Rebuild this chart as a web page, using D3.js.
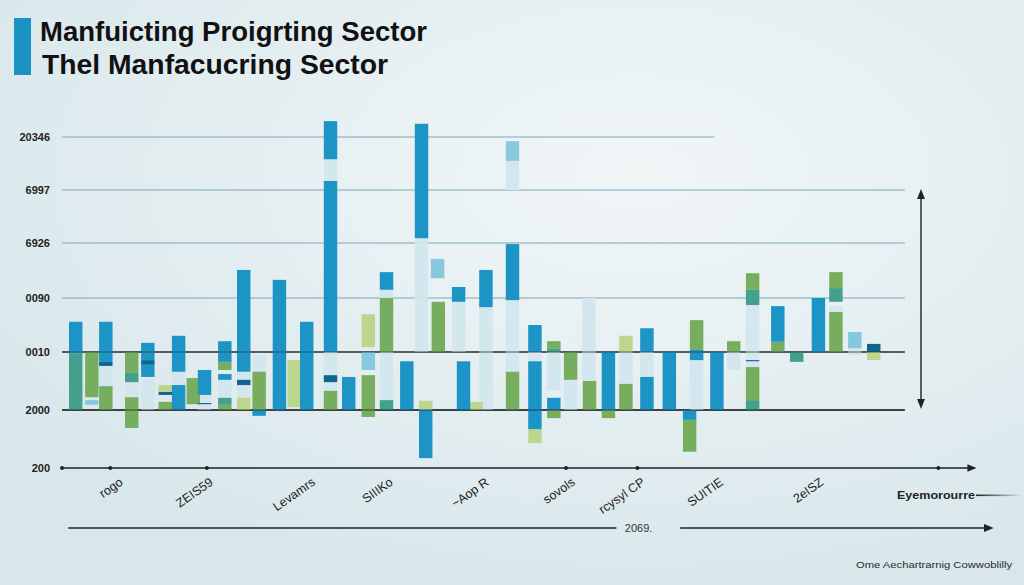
<!DOCTYPE html>
<html>
<head>
<meta charset="utf-8">
<script src="https://cdn.jsdelivr.net/npm/d3@7"></script>
<style>
  html, body { margin: 0; padding: 0; background: #e6eff2; }
  svg { display: block; }
</style>
</head>
<body>
<div id="chart"></div>
<script>
// Titres
const titleLines = ["Manfuicting Proigrting Sector", "Thel Manfacucring Sector"];

// Axe vertical : valeurs et libellés
const yValues = [-1, 0, 1, 2, 3, 4, 5];
const yTickLabels = ["200", "2000", "0010", "0090", "6926", "6997", "20346"];

// Axe horizontal : libellés et position
const xLabels = ["rogo", "ZEIS59", "Levamrs", "SIIIKo", "~Aop R", "sovols", "rcysyl CP", "SUITIE", "2eISZ"];
const xLabelAt = [4.4, 10.85, 18.15, 23.7, 30.55, 36.7, 41.7, 47.3, 54.45];
const axisDots = [0, 3.45, 10.35, 36.0, 41.1, 62.6];

// Segments : [position, bas, haut]
const paleBars = [
  [2.65, 0.41, 0.76], [4.5, 0.22, 0.48], [5.65, 0, 0.52], [7.85, 0.43, 0.66],
  [9.7, 0, 0.26], [11.15, 0.21, 0.52], [12.5, 0.52, 0.66], [12.5, 0.21, 0.43],
  [13.6, 0.66, 0.95], [18.7, 4.17, 4.58], [18.7, 0.6, 1.0], [18.7, 0.33, 0.48],
  [22.7, 2.0, 2.15], [22.7, 0.17, 1.0], [25.2, 1.0, 3.09], [27.85, 1.0, 1.93],
  [29.8, 0, 1.83], [31.7, 4.0, 4.55], [31.7, 0.66, 1.96], [33.3, 0.84, 1.0],
  [34.65, 0.34, 1.0], [35.85, 0, 0.52], [37.15, 0.5, 2.0], [39.8, 0.45, 1.0],
  [41.3, 0.57, 1.0], [44.85, 0, 0.86], [47.5, 0.69, 1.0], [48.85, 1.0, 1.87],
  [48.85, 0.74, 1.0], [54.8, 1.74, 1.85], [56.15, 0.95, 1.07]
];
const lightBlueBars = [
  [1.65, 0.09, 0.17], [21.4, 0.69, 1.0], [26.35, 2.36, 2.71],
  [31.7, 4.55, 4.92], [56.15, 1.07, 1.37]
];
const paleGreenBars = [
  [6.9, 0.31, 0.43], [12.5, 0, 0.21], [16.1, 0.05, 0.86], [21.4, 1.09, 1.7],
  [25.5, 0, 0.16], [29.1, 0, 0.14], [33.3, -0.57, -0.33], [39.8, 1.0, 1.3],
  [57.5, 0.86, 1.0]
];
const greenBars = [
  [1.65, 0.22, 1.0], [2.65, 0, 0.41], [4.5, 0.64, 1.0], [4.5, 0, 0.22],
  [4.5, -0.31, 0], [6.9, 0, 0.14], [8.9, 0.1, 0.55], [11.15, 0.69, 0.83],
  [11.15, 0, 0.09], [13.6, 0, 0.66], [18.7, 0, 0.33], [21.4, -0.12, 0.6],
  [22.7, 1.0, 2.0], [26.4, 1.0, 1.93], [31.7, 0, 0.66], [34.65, 1.06, 1.2],
  [34.65, -0.14, 0], [35.85, 0.52, 1.0], [37.2, 0, 0.5], [38.55, -0.14, 0],
  [39.8, 0, 0.45], [44.35, -0.72, -0.17], [44.85, 1.04, 1.59], [47.5, 1.0, 1.2],
  [48.85, 2.15, 2.45], [48.85, 0.17, 0.74], [50.65, 1.0, 1.19],
  [54.8, 2.18, 2.47], [54.8, 1.0, 1.74]
];
const tealBars = [
  [0.5, 0, 0.98], [4.5, 0.48, 0.64], [11.15, 0.09, 0.21], [22.7, 0, 0.17],
  [34.65, 1.0, 1.06], [48.85, 1.87, 2.15], [48.85, 0, 0.17], [52.0, 0.83, 1.0],
  [54.8, 1.93, 2.18]
];
const blueBars = [
  [0.5, 0.98, 1.56], [2.65, 0.83, 1.56], [5.65, 0.86, 1.17], [5.65, 0.57, 0.78],
  [7.85, 0.66, 1.3], [7.85, 0, 0.43], [9.7, 0.26, 0.69], [11.15, 0.83, 1.2],
  [11.15, 0.52, 0.62], [12.5, 0.66, 2.51], [13.6, -0.1, 0], [15.05, 0, 2.33],
  [17.0, 0, 1.56], [18.7, 4.58, 5.3], [18.7, 1.0, 4.17], [20.0, 0, 0.57],
  [22.7, 2.15, 2.47], [24.15, 0, 0.84], [25.2, 3.09, 5.25], [25.5, -0.83, 0],
  [27.85, 1.93, 2.2], [28.2, 0, 0.84], [29.8, 1.83, 2.51], [31.7, 1.96, 2.98],
  [33.3, 1.0, 1.5], [33.3, 0, 0.84], [33.3, -0.33, 0], [34.65, 0, 0.21],
  [38.55, 0, 1.0], [41.3, 1.0, 1.44], [41.3, 0, 0.57], [42.9, 0, 1.0],
  [44.35, -0.17, 0], [44.85, 0.86, 1.04], [46.3, 0, 1.0], [50.65, 1.19, 1.85],
  [53.55, 1.0, 2.0]
];
const darkBlueBars = [
  [2.65, 0.76, 0.83], [5.65, 0.78, 0.86], [6.9, 0.26, 0.31], [9.7, 0.1, 0.12],
  [12.5, 0.43, 0.52], [18.7, 0.48, 0.6], [48.85, 0.84, 0.86], [57.5, 1.0, 1.15]
];

const width = 1024, height = 585;

const svg = d3.select("#chart").append("svg")
    .attr("width", width).attr("height", height);

// Fond dégradé
const defs = svg.append("defs");
const bg = defs.append("radialGradient").attr("id", "bg")
    .attr("cx", "62%").attr("cy", "30%").attr("r", "75%");
bg.append("stop").attr("offset", "0%").attr("stop-color", "#f1f6f7");
bg.append("stop").attr("offset", "100%").attr("stop-color", "#d8e7eb");

const fade = defs.append("linearGradient").attr("id", "fade");
fade.append("stop").attr("offset", "0%").attr("stop-color", "#222");
fade.append("stop").attr("offset", "100%").attr("stop-color", "#222").attr("stop-opacity", 0);

["arrowEnd", "arrowStart"].forEach((id, i) => {
    defs.append("marker").attr("id", id)
        .attr("viewBox", "0 0 10 10").attr("refX", 5).attr("refY", 5)
        .attr("markerWidth", 7).attr("markerHeight", 7)
        .attr("orient", i === 0 ? "auto" : "auto-start-reverse")
        .append("path").attr("d", "M0,1 L10,5 L0,9 Z").attr("fill", "#1e2226");
});

svg.append("rect").attr("width", width).attr("height", height).attr("fill", "url(#bg)");

// Échelles
const x = d3.scaleLinear().domain([0, 60]).range([62, 902]);
const y = d3.scaleLinear().domain(yValues).range([468, 410, 352, 298, 243, 190, 137]);

// Titre
svg.append("rect").attr("x", 14).attr("y", 18).attr("width", 17).attr("height", 57)
    .attr("fill", "#1a93c3");
svg.selectAll("text.title")
    .data(titleLines)
    .enter().append("text")
    .attr("class", "title")
    .attr("x", (d, i) => i === 0 ? 40 : 42)
    .attr("y", (d, i) => i === 0 ? 41 : 74)
    .attr("textLength", (d, i) => i === 0 ? 387 : 346)
    .attr("lengthAdjust", "spacingAndGlyphs")
    .style("font-family", "'Liberation Sans', Arial, sans-serif")
    .style("font-weight", "bold")
    .style("font-size", (d, i) => i === 0 ? "27px" : "28px")
    .style("fill", "#111")
    .text(d => d);

// Lignes de grille
const grid = yValues.filter(v => v >= 0);
svg.append("g").selectAll("line")
    .data(grid)
    .enter().append("line")
    .attr("x1", x(0))
    .attr("x2", d => d === 5 ? x(46.6) : x(60.2))
    .attr("y1", d => y(d)).attr("y2", d => y(d))
    .attr("stroke", d => d === 0 ? "#1f2629" : d === 1 ? "#3b4347" : "#7fa6bb")
    .attr("stroke-width", d => d <= 1 ? 1.5 : 1.2);

// Libellés Y
svg.append("g").selectAll("text")
    .data(yValues)
    .enter().append("text")
    .attr("x", 50)
    .attr("y", d => y(d) + 4)
    .attr("text-anchor", "end")
    .style("font-family", "'Liberation Sans', Arial, sans-serif")
    .style("font-weight", "bold")
    .style("font-size", "11px")
    .style("fill", "#222")
    .text((d, i) => yTickLabels[i]);

// Barres
const series = [
    { data: paleBars, color: "#d1e6ed", opacity: 0.9 },
    { data: lightBlueBars, color: "#86c8de", opacity: 1 },
    { data: paleGreenBars, color: "#bcd78d", opacity: 1 },
    { data: greenBars, color: "#77ad5f", opacity: 1 },
    { data: tealBars, color: "#42a08c", opacity: 1 },
    { data: blueBars, color: "#1c95c6", opacity: 1 },
    { data: darkBlueBars, color: "#0d6590", opacity: 1 }
];
const barW = x(0.96) - x(0);
series.forEach(s => {
    svg.append("g").selectAll("rect")
        .data(s.data)
        .enter().append("rect")
        .attr("x", d => x(d[0]))
        .attr("y", d => y(d[2]))
        .attr("width", barW)
        .attr("height", d => y(d[1]) - y(d[2]))
        .attr("fill", s.color)
        .attr("opacity", s.opacity);
});

// Redessiner les deux lignes principales par-dessus
svg.append("g").selectAll("line")
    .data([0, 1])
    .enter().append("line")
    .attr("x1", x(0)).attr("x2", x(60.2))
    .attr("y1", d => y(d)).attr("y2", d => y(d))
    .attr("stroke", d => d === 0 ? "#1f2629" : "#3b4347")
    .attr("stroke-width", 1.2)
    .attr("opacity", 0.8);

// Axe X
svg.append("line")
    .attr("x1", x(0)).attr("x2", x(65))
    .attr("y1", y(-1)).attr("y2", y(-1))
    .attr("stroke", "#1e2226").attr("stroke-width", 1.3)
    .attr("marker-end", "url(#arrowEnd)");
svg.append("g").selectAll("circle")
    .data(axisDots)
    .enter().append("circle")
    .attr("cx", d => x(d)).attr("cy", y(-1)).attr("r", 2)
    .attr("fill", "#1e2226");

svg.append("g").selectAll("text")
    .data(xLabels)
    .enter().append("text")
    .attr("transform", (d, i) => `translate(${x(xLabelAt[i])},${y(-1) + 16}) rotate(-35)`)
    .attr("text-anchor", "end")
    .style("font-family", "'Liberation Sans', Arial, sans-serif")
    .style("font-size", "12.5px")
    .style("fill", "#222")
    .text(d => d);

// Deuxième axe
const axis2Y = 528;
svg.append("line")
    .attr("x1", x(0.45)).attr("x2", x(39.6))
    .attr("y1", axis2Y).attr("y2", axis2Y)
    .attr("stroke", "#1e2226").attr("stroke-width", 1.4);
svg.append("line")
    .attr("x1", x(44.15)).attr("x2", x(66.2))
    .attr("y1", axis2Y).attr("y2", axis2Y)
    .attr("stroke", "#1e2226").attr("stroke-width", 1.4)
    .attr("marker-end", "url(#arrowEnd)");
svg.append("text")
    .attr("x", x(40.2)).attr("y", axis2Y + 4)
    .style("font-family", "'Liberation Sans', Arial, sans-serif")
    .style("font-size", "11px")
    .style("fill", "#333")
    .text("2069.");

// Flèche verticale
svg.append("line")
    .attr("x1", 921).attr("x2", 921)
    .attr("y1", y(4) + 4).attr("y2", y(0) - 6)
    .attr("stroke", "#1e2226").attr("stroke-width", 1.4)
    .attr("marker-start", "url(#arrowStart)")
    .attr("marker-end", "url(#arrowEnd)");

// Légende
svg.append("text")
    .attr("x", 897).attr("y", 499)
    .attr("textLength", 78).attr("lengthAdjust", "spacingAndGlyphs")
    .style("font-family", "'Liberation Sans', Arial, sans-serif")
    .style("font-weight", "bold")
    .style("font-size", "11px")
    .style("fill", "#222")
    .text("Eyemorourre");
svg.append("rect")
    .attr("x", 976).attr("y", 494.5).attr("width", 46).attr("height", 1.6)
    .attr("fill", "url(#fade)");

svg.append("text")
    .attr("x", 856).attr("y", 568)
    .attr("textLength", 156).attr("lengthAdjust", "spacingAndGlyphs")
    .style("font-family", "'Liberation Sans', Arial, sans-serif")
    .style("font-size", "9.5px")
    .style("fill", "#2a2a2a")
    .text("Ome Aechartrarnig Cowwoblilly");
</script>
</body>
</html>
